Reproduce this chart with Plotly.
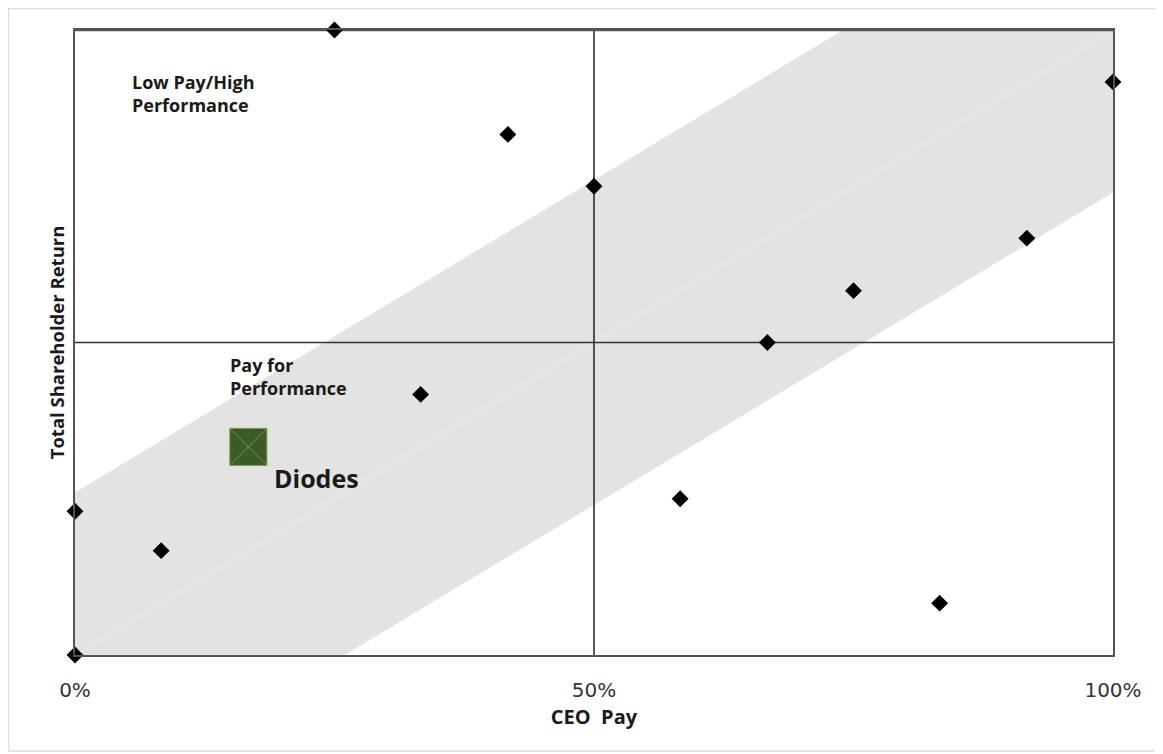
import plotly.graph_objects as go

# Peer companies: percentile rank of CEO pay vs. total shareholder return
peer_pay = [25, 41.7, 50, 100, 91.7, 75, 66.7, 33.3, 0, 8.3, 58.3, 83.3, 0]
peer_tsr = [100, 83.3, 75, 91.7, 66.7, 58.3, 50, 41.7, 23, 16.7, 25, 8.3, 0]

diodes_pay = [16.7]
diodes_tsr = [33.3]

band_half_width = 26
x_ticks = [0, 50, 100]
x_tick_labels = ["0%", "50%", "100%"]

FONT = "Open Sans"
TICK_FONT = "DejaVu Sans"

# page offset (browser body margin) compensation
OFF = 8
W, H = 1163, 754
L, T = 75 - OFF, 30 - OFF
R = W - (1113 - OFF)
B = H - (655 - OFF)
PW, PH = 1038, 625

fig = go.Figure()

# alignment band (pay for performance zone)
bx = [0, 100 - band_half_width, 100, 100, band_half_width, 0, 0]
by = [band_half_width, 100, 100, 100 - band_half_width, 0, 0, band_half_width]
fig.add_trace(go.Scatter(x=bx, y=by, mode="lines", fill="toself",
                         fillcolor="#e3e3e3", line=dict(width=0),
                         hoverinfo="skip", showlegend=False))
# faint diagonal
fig.add_trace(go.Scatter(x=[0, 100], y=[0, 100], mode="lines",
                         line=dict(color="#ececec", width=1),
                         hoverinfo="skip", showlegend=False))
# quadrant lines
fig.add_trace(go.Scatter(x=[50, 50], y=[0, 100], mode="lines",
                         line=dict(color="#222222", width=1.5),
                         hoverinfo="skip", showlegend=False))
fig.add_trace(go.Scatter(x=[-0.5, 100], y=[50, 50], mode="lines",
                         line=dict(color="#333333", width=1.5),
                         hoverinfo="skip", showlegend=False, cliponaxis=False))
# top border stub extending left
fig.add_trace(go.Scatter(x=[-0.7, 100], y=[100, 100], mode="lines",
                         line=dict(color="#555555", width=2.5),
                         hoverinfo="skip", showlegend=False, cliponaxis=False))

# peers
fig.add_trace(go.Scatter(x=peer_pay, y=peer_tsr, mode="markers",
                         marker=dict(symbol="diamond", size=13, color="#000000"),
                         cliponaxis=False, showlegend=False, name="Peers"))
# Diodes
fig.add_trace(go.Scatter(x=diodes_pay, y=diodes_tsr, mode="markers",
                         marker=dict(symbol="square-x", size=37, color="#3b5a28",
                                     line=dict(color="#6f9a4e", width=1)),
                         cliponaxis=False, showlegend=False, name="Diodes"))

fig.add_annotation(x=5.3, y=94.0, xref="x", yref="y", xanchor="left", yanchor="top",
                   text="<b>Low Pay/High<br>Performance</b>", showarrow=False, align="left",
                   font=dict(family=FONT, size=18, color="#1a1a1a"))
fig.add_annotation(x=14.7, y=48.6, xref="x", yref="y", xanchor="left", yanchor="top",
                   text="<b>Pay for<br>Performance</b>", showarrow=False, align="left",
                   font=dict(family=FONT, size=18, color="#1a1a1a"))
fig.add_annotation(x=19.0, y=28.4, xref="x", yref="y", xanchor="left", yanchor="middle",
                   text="<b>Diodes</b>", showarrow=False, align="left",
                   font=dict(family=FONT, size=25, color="#1a1a1a"))

# outer light frame (right edge lies beyond the visible window)
fig.add_shape(type="rect", xref="paper", yref="paper",
              x0=(8.5 - 75) / PW, x1=(1168 - 75) / PW,
              y0=(655 - 751) / PH, y1=(655 - 8.5) / PH,
              line=dict(color="#dddddd", width=1.5), fillcolor="rgba(0,0,0,0)", layer="below")

fig.update_layout(
    width=W, height=H,
    margin=dict(l=L, r=R, t=T, b=B),
    paper_bgcolor="white", plot_bgcolor="white",
    font=dict(family=FONT, color="#1a1a1a"),
    showlegend=False,
    xaxis=dict(range=[0, 100], showgrid=False, zeroline=False,
               showline=True, mirror=True, linecolor="#555555", linewidth=1.5,
               tickvals=x_ticks, ticktext=x_tick_labels, ticks="",
               ticklabelstandoff=16,
               tickfont=dict(family=TICK_FONT, size=20, color="#333333"),
               title=dict(text="<b>CEO&nbsp; Pay</b>", standoff=9,
                          font=dict(family=FONT, size=20, color="#1a1a1a"))),
    yaxis=dict(range=[0, 100], showgrid=False, zeroline=False,
               showline=True, mirror=True, linecolor="#555555", linewidth=1.5,
               showticklabels=False, ticks="",
               title=dict(text="<b>Total Shareholder Return</b>", standoff=4,
                          font=dict(family=FONT, size=18.5, color="#1a1a1a"))),
)

fig.write_html("out.html")
